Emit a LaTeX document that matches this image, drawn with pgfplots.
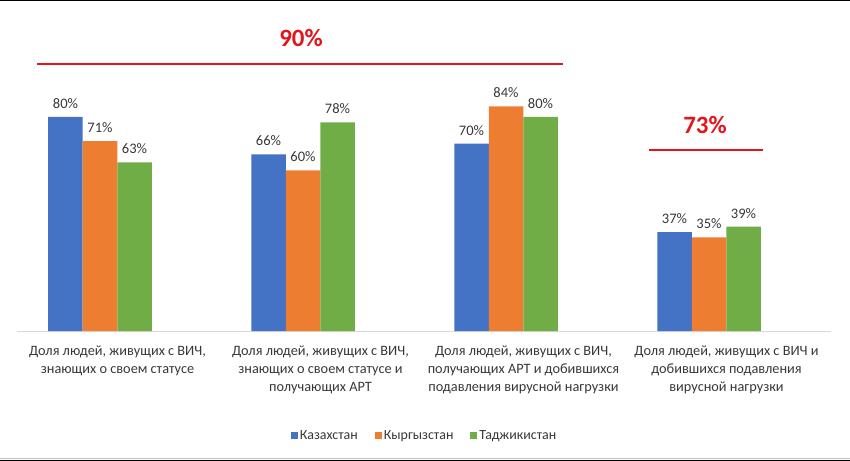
\documentclass[border=0pt]{standalone}
\usepackage{pgfplots}
\pgfplotsset{compat=1.18}
\usepackage{fontspec}
\setmainfont{Carlito}
\definecolor{kzBlue}{HTML}{4472C4}
\definecolor{kgOrange}{HTML}{ED7D31}
\definecolor{tjGreen}{HTML}{70AD47}
\definecolor{goalRed}{HTML}{E3141B}
\definecolor{axGray}{HTML}{D9D9D9}
\begin{document}
\begin{tikzpicture}
% picture frame: 850 x 461 px, data origin at pixel (100,331)
\useasboundingbox (-100bp,-130bp) rectangle (750bp,331bp);
\begin{axis}[
  at={(0,0)}, anchor=origin,
  x=203bp, y=2.675bp,
  xmin=-0.41, xmax=3.6, ymin=0, ymax=100,
  ybar=0pt, bar width=34.5bp,
  axis x line*=bottom, hide y axis,
  x axis line style={axGray, line width=0.8bp, -},
  xtick={0,1,2,3}, major tick length=0pt,
  xticklabels={{Доля людей, живущих с ВИЧ,\\знающих о своем статусе},
               {Доля людей, живущих с ВИЧ,\\знающих о своем статусе и\\получающих АРТ},
               {Доля людей, живущих с ВИЧ,\\получающих АРТ и добившихся\\подавления вирусной нагрузки},
               {Доля людей, живущих с ВИЧ и\\добившихся подавления\\вирусной нагрузки}},
  xticklabel style={font=\fontsize{14.35}{18}\selectfont, align=center, text=black!78,
    yshift=-11bp, xshift=17.5bp},
  nodes near coords={\pgfmathprintnumber{\pgfplotspointmeta}\%},
  nodes near coords style={font=\fontsize{14.6}{17}\selectfont, text=black!78, yshift=5bp},
  /pgf/number format/assume math mode=true,
  legend style={at={(0.501,-0.3925)}, anchor=center, draw=none,
    font=\fontsize{14}{17}\selectfont, text=black!78, legend columns=3,
    /tikz/every even column/.append style={column sep=15bp}},
  legend image code/.code={\fill[#1] (0bp,-3.5bp) rectangle (7bp,3.5bp);},
  clip=false,
]
\addplot[fill=kzBlue, draw=none] coordinates {(0,80) (1,66) (2,70) (3,37)};
\addplot[fill=kgOrange, draw=none] coordinates {(0,71) (1,60) (2,84) (3,35)};
\addplot[fill=tjGreen, draw=none] coordinates {(0,63) (1,78) (2,80) (3,39)};
\legend{Казахстан, Кыргызстан, Таджикистан}
\end{axis}
% target annotations
\draw[draw=goalRed, line width=1.2bp] (-63bp,267bp) -- (463bp,267bp);
\node[text=goalRed, font=\fontsize{25}{28}\selectfont\bfseries] at (201bp,293bp) {90\%};
\draw[draw=goalRed, line width=1.2bp] (549bp,181bp) -- (663bp,181bp);
\node[text=goalRed, font=\fontsize{25}{28}\selectfont\bfseries] at (605bp,206bp) {73\%};
% frame lines
\fill[black] (-100bp,329.5bp) rectangle (750bp,331bp);
\fill[black!25] (-100bp,-126.5bp) rectangle (750bp,-127.5bp);
\fill[black] (-100bp,-128.5bp) rectangle (750bp,-130bp);
\end{tikzpicture}
\end{document}
